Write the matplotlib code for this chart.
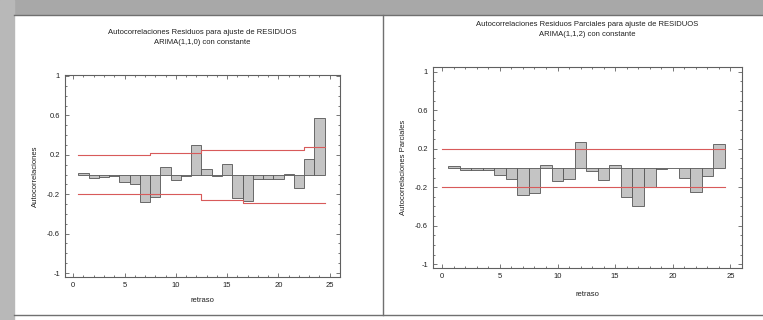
import numpy as np
import matplotlib
matplotlib.use('Agg')
import matplotlib.pyplot as plt
from matplotlib.patches import Rectangle
from matplotlib.lines import Line2D
from matplotlib.ticker import MultipleLocator

# data
lags = np.arange(1, 25)
acf = [0.02, -0.04, -0.03, -0.02, -0.08, -0.10, -0.28, -0.23, 0.08, -0.06,
       -0.02, 0.30, 0.06, -0.01, 0.11, -0.24, -0.27, -0.05, -0.05, -0.05,
       0.01, -0.14, 0.16, 0.57]
acf_upper = [0.20, 0.20, 0.20, 0.20, 0.20, 0.20, 0.20, 0.22, 0.22, 0.22,
             0.22, 0.22, 0.25, 0.25, 0.25, 0.25, 0.25, 0.25, 0.25, 0.25,
             0.25, 0.25, 0.28, 0.28]
acf_lower = [-0.20, -0.20, -0.20, -0.20, -0.20, -0.20, -0.20, -0.20, -0.20, -0.20,
             -0.20, -0.20, -0.26, -0.26, -0.26, -0.26, -0.29, -0.29, -0.29, -0.29,
             -0.29, -0.29, -0.29, -0.29]
pacf = [0.02, -0.02, -0.02, -0.02, -0.07, -0.11, -0.28, -0.26, 0.03, -0.14,
        -0.11, 0.27, -0.03, -0.12, 0.03, -0.30, -0.40, -0.20, -0.01, 0.005,
        -0.10, -0.25, -0.08, 0.25]
pacf_limit = 0.2

titles = ['Autocorrelaciones Residuos para ajuste de RESIDUOS\nARIMA(1,1,0) con constante',
          'Autocorrelaciones Residuos Parciales para ajuste de RESIDUOS\nARIMA(1,1,2) con constante']
ylabels = ['Autocorrelaciones', 'Autocorrelaciones Parciales']
xlabel = 'retraso'
yticks = [-1, -0.6, -0.2, 0.2, 0.6, 1]

plt.rcParams['font.family'] = ['Liberation Sans', 'DejaVu Sans']
W, H = 763, 320
fig = plt.figure(figsize=(W / 100, H / 100), dpi=100, facecolor='white')


def px(x0, y0, x1, y1):
    return [x0 / W, 1 - y1 / H, (x1 - x0) / W, (y1 - y0) / H]


# window frame / shadow
fig.patches.append(Rectangle((0, 1 - 14 / H), 1, 14 / H, transform=fig.transFigure,
                             color='#a8a8a8', zorder=0))
fig.patches.append(Rectangle((0, 0), 14 / W, 1, transform=fig.transFigure,
                             color='#b8b8b8', zorder=0))
for (xa, ya) in [([14 / W, 1], [1 - 15 / H, 1 - 15 / H]),
                 ([14 / W, 1], [1 - 315 / H, 1 - 315 / H]),
                 ([383 / W, 383 / W], [1 - 315 / H, 1 - 15 / H])]:
    fig.lines.append(Line2D(xa, ya, transform=fig.transFigure, color='#707070', lw=1))

text_kw = dict(color='#202020', fontsize=5.5)
red = '#d85a5a'


def style(ax, ylim):
    ax.set_xlim(-0.8, 26)
    ax.set_ylim(*ylim)
    ax.set_xticks([0, 5, 10, 15, 20, 25])
    ax.set_yticks(yticks)
    ax.set_yticklabels(['-1', '-0.6', '-0.2', '0.2', '0.6', '1'])
    ax.xaxis.set_minor_locator(MultipleLocator(1))
    ax.yaxis.set_minor_locator(MultipleLocator(0.1))
    ax.tick_params(which='both', direction='in', top=True, right=True,
                   labelsize=5.5, labelcolor='#202020', color='#606060', width=0.6)
    ax.tick_params(which='major', length=3)
    ax.tick_params(which='minor', length=1.5)
    for s in ax.spines.values():
        s.set_color('#606060')
        s.set_linewidth(0.8)


# left: residual ACF
ax1 = fig.add_axes(px(65, 75, 340, 277))
ax1.bar(lags, acf, width=1.0, color='#c4c4c4', edgecolor='#555555', linewidth=0.6)
ax1.step(np.r_[0.5, lags + 0.5], np.r_[acf_upper[0], acf_upper], where='pre',
         color=red, lw=0.8)
ax1.step(np.r_[0.5, lags + 0.5], np.r_[acf_lower[0], acf_lower], where='pre',
         color=red, lw=0.8)
style(ax1, (-1.04, 1.01))
ax1.set_title(titles[0], pad=22, linespacing=1.6, **text_kw)
ax1.set_ylabel(ylabels[0], labelpad=6, **text_kw)
ax1.set_xlabel(xlabel, labelpad=6, **text_kw)

# right: residual PACF
ax2 = fig.add_axes(px(433, 67, 742, 268))
ax2.bar(lags, pacf, width=1.0, color='#c4c4c4', edgecolor='#555555', linewidth=0.6)
ax2.plot([0, 24.5], [pacf_limit, pacf_limit], color=red, lw=0.8)
ax2.plot([0, 24.5], [-pacf_limit, -pacf_limit], color=red, lw=0.8)
style(ax2, (-1.04, 1.05))
ax2.set_title(titles[1], pad=22, linespacing=1.6, **text_kw)
ax2.set_ylabel(ylabels[1], labelpad=6, **text_kw)
ax2.set_xlabel(xlabel, labelpad=8, **text_kw)

fig.savefig('out.png', dpi=100, facecolor='white')
